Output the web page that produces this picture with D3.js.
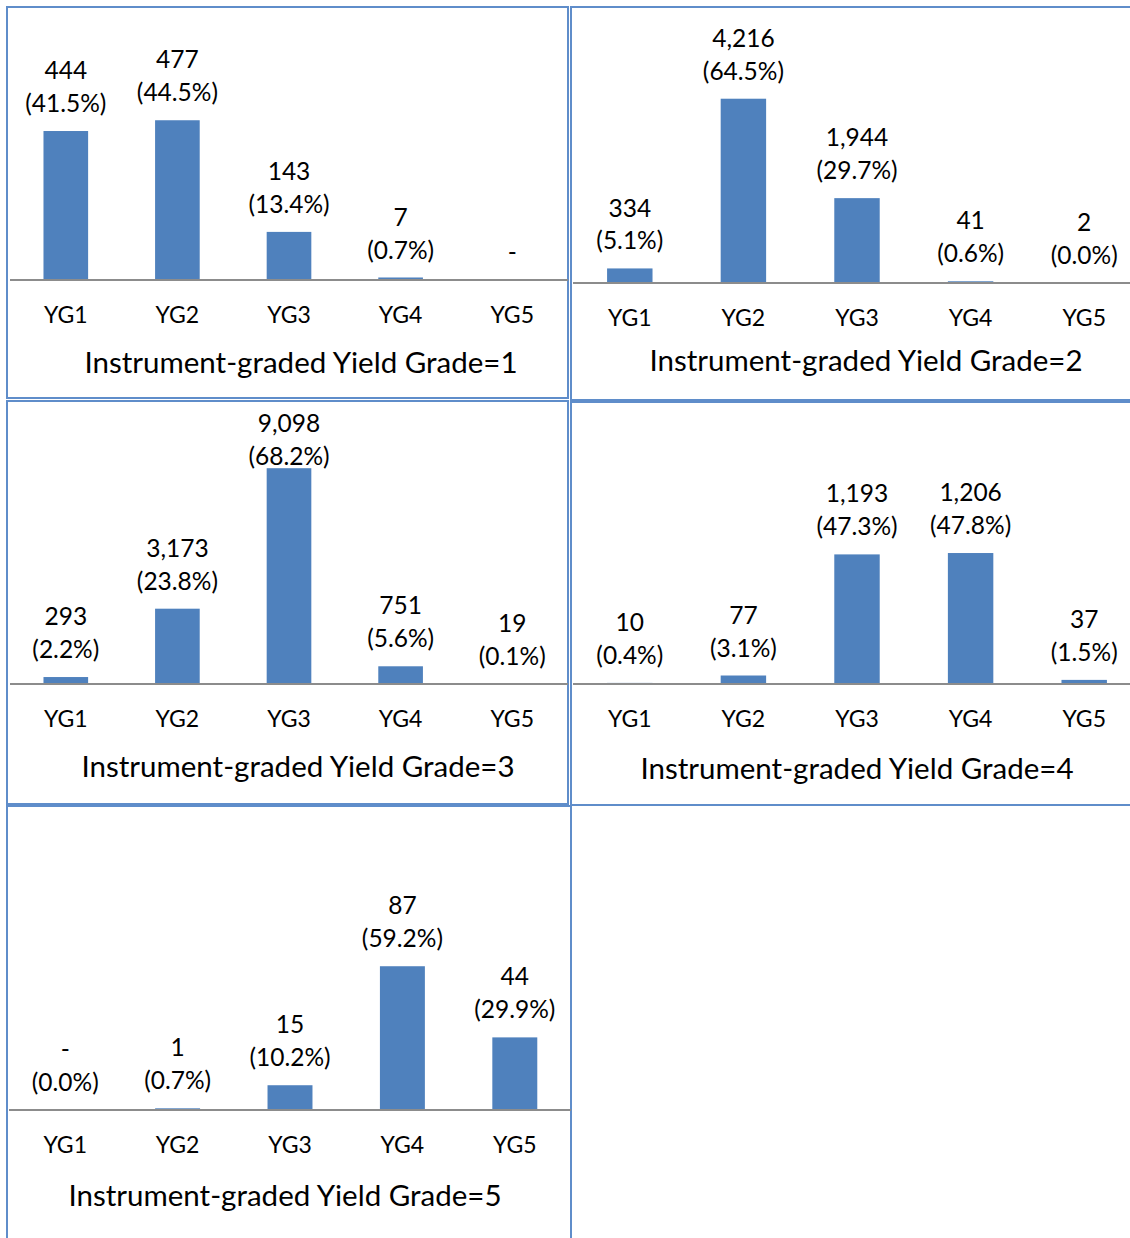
<!DOCTYPE html>
<html>
<head>
<meta charset="utf-8">
<script src="https://cdn.jsdelivr.net/npm/d3@7"></script>
<style>
  html, body { margin: 0; padding: 0; background: #fff; }
  svg { display: block; font-family: Lato, "Open Sans", sans-serif; }
</style>
</head>
<body>
<svg id="chart" width="1130" height="1238"></svg>
<script>
// Carcass yield grade categories
const categories = ["YG1", "YG2", "YG3", "YG4", "YG5"];

// Panel titles (instrument-graded yield grade)
const panelTitles = [
  "Instrument-graded Yield Grade=1",
  "Instrument-graded Yield Grade=2",
  "Instrument-graded Yield Grade=3",
  "Instrument-graded Yield Grade=4",
  "Instrument-graded Yield Grade=5"
];

// Head counts per category (0 is shown as "-")
const counts1 = [444, 477, 143, 7, 0];
const counts2 = [334, 4216, 1944, 41, 2];
const counts3 = [293, 3173, 9098, 751, 19];
const counts4 = [10, 77, 1193, 1206, 37];
const counts5 = [0, 1, 15, 87, 44];

// Share of the panel total, percent (null = no percent line)
const pcts1 = [41.5, 44.5, 13.4, 0.7, null];
const pcts2 = [5.1, 64.5, 29.7, 0.6, 0.0];
const pcts3 = [2.2, 23.8, 68.2, 5.6, 0.1];
const pcts4 = [0.4, 3.1, 47.3, 47.8, 1.5];
const pcts5 = [0.0, 0.7, 10.2, 59.2, 29.9];

const countSeries = [counts1, counts2, counts3, counts4, counts5];
const pctSeries = [pcts1, pcts2, pcts3, pcts4, pcts5];

// Layout of each panel: frame, plot extent, value-axis range, title position
const layout = [
  { frame: [7, 7, 561, 391],   x0: 10,  x1: 568,  base: 280,  yMax: 50, plotH: 179.5, titleX: 301, titleY: 363 },
  { frame: [571, 7, 580, 393], x0: 573, x1: 1141, base: 283,  yMax: 70, plotH: 200,   titleX: 866, titleY: 361 },
  { frame: [7, 401, 561, 403], x0: 10,  x1: 568,  base: 684,  yMax: 70, plotH: 221.5, titleX: 298, titleY: 767 },
  { frame: [571, 402, 580, 403], x0: 573, x1: 1141, base: 684, yMax: 50, plotH: 137,  titleX: 857, titleY: 769 },
  { frame: [7, 806, 564, 450], x0: 9,   x1: 571,  base: 1110, yMax: 70, plotH: 170,   titleX: 285, titleY: 1196 }
];

const svg = d3.select("#chart");
const fmtCount = d3.format(",");
const LABEL_GAP = 27.5;   // bar top to centre of the percent line
const LINE_STEP = 33;     // count line sits this far above the percent line
const TOP_INSET = 22;     // labels never rise above frame top + this

layout.forEach((L, i) => {
  const g = svg.append("g");
  const counts = countSeries[i];
  const pcts = pctSeries[i];
  const data = categories.map((c, j) => ({ cat: c, count: counts[j], pct: pcts[j] }));

  // panel frame
  g.append("rect")
    .attr("x", L.frame[0]).attr("y", L.frame[1])
    .attr("width", L.frame[2]).attr("height", L.frame[3])
    .attr("fill", "#fff")
    .attr("stroke", "#5f8dca")
    .attr("stroke-width", 2);

  const x = d3.scaleBand()
    .domain(categories)
    .range([L.x0, L.x1])
    .paddingInner(0.6)
    .paddingOuter(0.3);

  const y = d3.scaleLinear()
    .domain([0, L.yMax])
    .range([L.base, L.base - L.plotH]);

  // bars
  g.selectAll("rect.bar")
    .data(data)
    .join("rect")
    .attr("class", "bar")
    .attr("x", d => x(d.cat))
    .attr("width", x.bandwidth())
    .attr("y", d => y(d.pct || 0))
    .attr("height", d => L.base - y(d.pct || 0))
    .attr("fill", "#4f81bd");

  // category axis
  const axis = d3.axisBottom(x).tickSize(0).tickPadding(0);
  const ag = g.append("g")
    .attr("transform", `translate(0,${L.base})`)
    .call(axis);
  ag.select(".domain")
    .attr("d", `M${L.x0},0H${L.x1}`)
    .attr("stroke", "#8c8c8c")
    .attr("stroke-width", 2);
  ag.selectAll(".tick text")
    .attr("y", 35)
    .attr("dy", "0.35em")
    .attr("fill", "#000")
    .style("font-size", "23px")
    .style("font-family", "Lato, 'Open Sans', sans-serif");

  // value labels: count on top, percent below it; kept inside the frame
  const lines = data.map(d => {
    const lines = d.pct === null ? 1 : 2;
    const firstY = Math.max(y(d.pct || 0) - LABEL_GAP - (lines - 1) * LINE_STEP,
                            L.frame[1] + TOP_INSET);
    return { d, firstY };
  });

  const lbl = g.selectAll("g.lbl")
    .data(lines)
    .join("g")
    .attr("class", "lbl")
    .attr("transform", p => `translate(${x(p.d.cat) + x.bandwidth() / 2},${p.firstY})`)
    .attr("text-anchor", "middle")
    .attr("fill", "#000")
    .style("font-size", "24.5px");

  lbl.append("text")
    .attr("dy", "0.35em")
    .text(p => p.d.count === 0 ? "-" : fmtCount(p.d.count));

  lbl.filter(p => p.d.pct !== null)
    .append("text")
    .attr("y", LINE_STEP)
    .attr("dy", "0.35em")
    .text(p => `(${p.d.pct.toFixed(1)}%)`);

  // panel title
  g.append("text")
    .attr("x", L.titleX)
    .attr("y", L.titleY)
    .attr("dy", "0.35em")
    .attr("text-anchor", "middle")
    .attr("fill", "#000")
    .style("font-size", "29.5px")
    .text(panelTitles[i]);
});
</script>
</body>
</html>
